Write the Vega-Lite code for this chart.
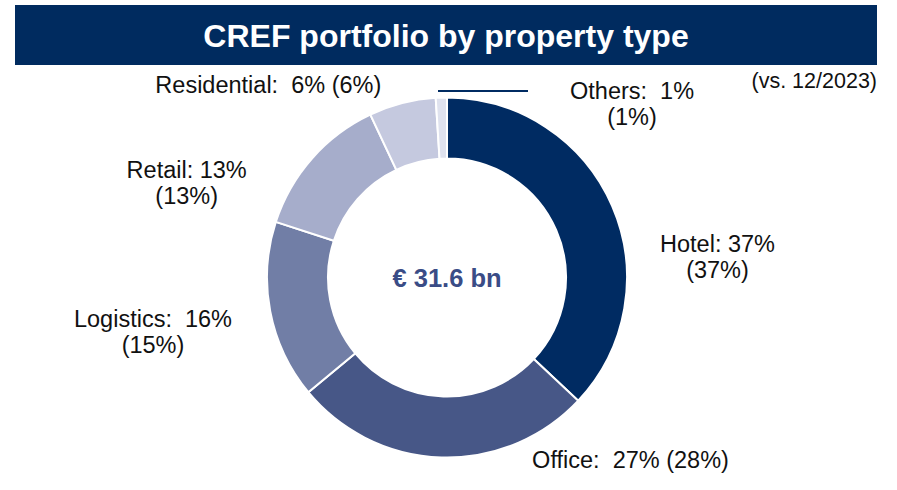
{
  "$schema": "https://vega.github.io/schema/vega-lite/v6.json",
  "padding": {"left": 15, "top": 5, "right": 18, "bottom": 0},
  "background": "white",
  "config": {"view": {"stroke": null}, "font": "Liberation Sans"},
  "bounds": "flush",
  "spacing": 0,
  "datasets": {
    "portfolio": [
      {"type": "Hotel", "share": 37, "label": "Hotel: 37%|(37%)"},
      {"type": "Office", "share": 27, "label": "Office:\u00a0 27% (28%)"},
      {"type": "Logistics", "share": 16, "label": "Logistics:\u00a0 16%|(15%)"},
      {"type": "Retail", "share": 13, "label": "Retail: 13%|(13%)"},
      {"type": "Residential", "share": 6, "label": "Residential:\u00a0 6% (6%)"},
      {"type": "Others", "share": 1, "label": "Others:\u00a0 1%|(1%)"}
    ],
    "total": [{"total": "€ 31.6 bn"}]
  },
  "vconcat": [
    {
      "width": 862,
      "height": 60,
      "view": {"fill": "#002B5F", "stroke": null},
      "data": {"values": [{"title": "CREF portfolio by property type"}]},
      "mark": {"type": "text", "fontSize": 32, "fontWeight": "bold", "color": "white", "baseline": "middle", "align": "center", "dy": 2},
      "encoding": {"text": {"field": "title", "type": "nominal"}}
    },
    {
      "width": 864,
      "height": 425,
      "title": {"text": "(vs. 12/2023)", "anchor": "end", "frame": "group", "orient": "top", "offset": -44, "baseline": "alphabetic", "fontSize": 21.5, "fontWeight": "normal", "color": "#111111", "dx": -2},
      "layer": [
        {
          "data": {"name": "portfolio"},
          "transform": [{"stack": "share", "groupby": [], "sort": [{"field": "share", "order": "descending"}], "as": ["s0", "s1"]}],
          "mark": {"type": "arc", "outerRadius": 180, "innerRadius": 119, "stroke": "white", "strokeWidth": 2},
          "encoding": {
            "theta": {"field": "s0", "type": "quantitative", "stack": null, "scale": {"domain": [0, 100]}},
            "theta2": {"field": "s1"},
            "color": {
              "field": "type",
              "type": "nominal",
              "scale": {
                "domain": ["Hotel", "Office", "Logistics", "Retail", "Residential", "Others"],
                "range": ["#002B62", "#475787", "#717EA6", "#A6ADCB", "#C5C9DF", "#DFE2EE"]
              },
              "legend": null
            }
          }
        },
        {
          "data": {"name": "portfolio"},
          "transform": [{"filter": "datum.type === 'Others'"}],
          "mark": {"type": "point", "shape": "M-0.045,-0.9325L0.405,-0.9325", "size": 160000, "filled": false, "color": "#002B62", "stroke": "#002B62", "strokeWidth": 2, "opacity": 1},
          "encoding": {}
        },
        {
          "data": {"name": "portfolio"},
          "transform": [
            {"stack": "share", "groupby": [], "sort": [{"field": "share", "order": "descending"}], "as": ["s0", "s1"]},
            {"filter": "datum.type === 'Hotel'"}
          ],
          "mark": {"type": "text", "radius": 200, "dx": 270.5, "dy": 174.2, "align": "center", "baseline": "alphabetic", "lineBreak": "|", "lineHeight": 26, "fontSize": 23.5, "color": "#111111"},
          "encoding": {"theta": {"field": "s0", "type": "quantitative", "stack": null}, "text": {"field": "label", "type": "nominal"}}
        },
        {
          "data": {"name": "portfolio"},
          "transform": [
            {"stack": "share", "groupby": [], "sort": [{"field": "share", "order": "descending"}], "as": ["s0", "s1"]},
            {"filter": "datum.type === 'Office'"}
          ],
          "mark": {"type": "text", "radius": 200, "dx": 37.7, "dy": 53.6, "align": "center", "baseline": "alphabetic", "lineBreak": "|", "lineHeight": 26, "fontSize": 23.5, "color": "#111111"},
          "encoding": {"theta": {"field": "s0", "type": "quantitative", "stack": null}, "text": {"field": "label", "type": "nominal"}}
        },
        {
          "data": {"name": "portfolio"},
          "transform": [
            {"stack": "share", "groupby": [], "sort": [{"field": "share", "order": "descending"}], "as": ["s0", "s1"]},
            {"filter": "datum.type === 'Logistics'"}
          ],
          "mark": {"type": "text", "radius": 200, "dx": -139.9, "dy": -78.3, "align": "center", "baseline": "alphabetic", "lineBreak": "|", "lineHeight": 26, "fontSize": 23.5, "color": "#111111"},
          "encoding": {"theta": {"field": "s0", "type": "quantitative", "stack": null}, "text": {"field": "label", "type": "nominal"}}
        },
        {
          "data": {"name": "portfolio"},
          "transform": [
            {"stack": "share", "groupby": [], "sort": [{"field": "share", "order": "descending"}], "as": ["s0", "s1"]},
            {"filter": "datum.type === 'Retail'"}
          ],
          "mark": {"type": "text", "radius": 200, "dx": -70.1, "dy": -37.7, "align": "center", "baseline": "alphabetic", "lineBreak": "|", "lineHeight": 26, "fontSize": 23.5, "color": "#111111"},
          "encoding": {"theta": {"field": "s0", "type": "quantitative", "stack": null}, "text": {"field": "label", "type": "nominal"}}
        },
        {
          "data": {"name": "portfolio"},
          "transform": [
            {"stack": "share", "groupby": [], "sort": [{"field": "share", "order": "descending"}], "as": ["s0", "s1"]},
            {"filter": "datum.type === 'Residential'"}
          ],
          "mark": {"type": "text", "radius": 200, "dx": -93.5, "dy": -3.5, "align": "center", "baseline": "alphabetic", "lineBreak": "|", "lineHeight": 26, "fontSize": 23.5, "color": "#111111"},
          "encoding": {"theta": {"field": "s0", "type": "quantitative", "stack": null}, "text": {"field": "label", "type": "nominal"}}
        },
        {
          "data": {"name": "portfolio"},
          "transform": [
            {"stack": "share", "groupby": [], "sort": [{"field": "share", "order": "descending"}], "as": ["s0", "s1"]},
            {"filter": "datum.type === 'Others'"}
          ],
          "mark": {"type": "text", "radius": 200, "dx": 197.6, "dy": 21.1, "align": "center", "baseline": "alphabetic", "lineBreak": "|", "lineHeight": 26, "fontSize": 23.5, "color": "#111111"},
          "encoding": {"theta": {"field": "s0", "type": "quantitative", "stack": null}, "text": {"field": "label", "type": "nominal"}}
        },
        {
          "data": {"name": "total"},
          "mark": {"type": "text", "align": "center", "baseline": "alphabetic", "dy": 9, "fontSize": 25.5, "fontWeight": "bold", "color": "#3A4C86"},
          "encoding": {"text": {"field": "total", "type": "nominal"}}
        }
      ]
    }
  ]
}
